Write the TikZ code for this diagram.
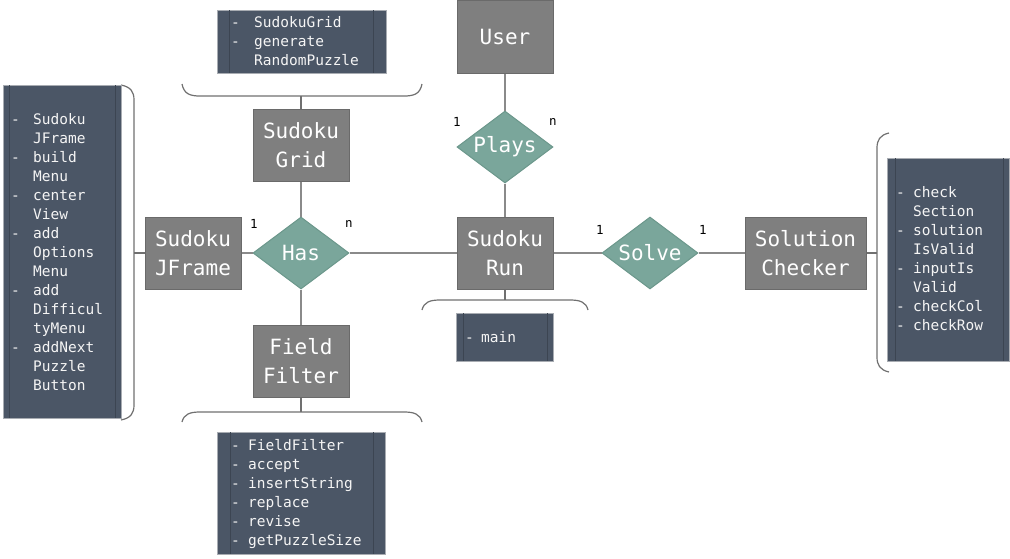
\documentclass[tikz,border=0pt]{standalone}
\usepackage{fontspec}
\newfontfamily\mono{DejaVu Sans Mono}
\usetikzlibrary{shapes.geometric}
\definecolor{entfill}{HTML}{7F7F7F}
\definecolor{entdraw}{HTML}{6A6A6A}
\definecolor{relfill}{HTML}{7AA69B}
\definecolor{reldraw}{HTML}{6B978B}
\definecolor{lstfill}{HTML}{4B5666}
\definecolor{lstin}{HTML}{3C4552}
\definecolor{lstdraw}{HTML}{A8ACB2}
\definecolor{conn}{HTML}{8A8A8A}
\definecolor{brc}{HTML}{707070}
\newcommand\lsti[2]{\strut\makebox[#1][l]{-}#2}
\newcommand\lstc[2]{\strut\makebox[#1][l]{}#2}
\tikzset{
  ent/.style={draw=entdraw, fill=entfill, line width=1pt, text=white, font=\mono\fontsize{21}{29}\selectfont, align=center, inner sep=0pt},
  rel/.style={diamond, draw=reldraw, fill=relfill, line width=1pt, text=white, font=\mono\fontsize{21}{29}\selectfont, inner sep=0pt, aspect=1.33},
  lst/.style={draw=lstdraw, fill=lstfill, line width=0.8pt},
  lstinner/.style={draw=lstin, line width=1pt},
  lsttext/.style={text=white!92!gray, font=\mono\fontsize{14.5}{19}\selectfont, align=left, inner sep=0pt, anchor=north west},
  card/.style={font=\mono\fontsize{12.5}{14}\selectfont, text=black, inner sep=0pt},
  conline/.style={draw=conn, line width=1.3pt},
  brace/.style={draw=brc, line width=1.2pt}
}
\begin{document}
\begin{tikzpicture}[x=1pt,y=-1pt]
\useasboundingbox (0,0) rectangle (1010,558);
% entities
\node[ent, minimum width=96pt, minimum height=73pt] (user) at (505,36.5) {User};
\node[ent, minimum width=96pt, minimum height=72pt] (grid) at (301,145) {Sudoku\\Grid};
\node[ent, minimum width=96pt, minimum height=72pt] (jframe) at (193,253) {Sudoku\\JFrame};
\node[ent, minimum width=96pt, minimum height=72pt] (run) at (505,253) {Sudoku\\Run};
\node[ent, minimum width=96pt, minimum height=72pt] (filter) at (301,361) {Field\\Filter};
\node[ent, minimum width=121pt, minimum height=72pt] (checker) at (805.5,253) {Solution\\Checker};
% relations
\node[rel, minimum width=96pt, minimum height=72pt] (has) at (301,253) {Has};
\node[rel, minimum width=96pt, minimum height=72pt] (plays) at (505,147) {Plays};
\node[rel, minimum width=96pt, minimum height=72pt] (solve) at (650,253) {Solve};
% connectors
\draw[conline] (user) -- (plays);
\draw[conline] (plays) -- (run);
\draw[conline] (jframe) -- (has);
\draw[conline] (has) -- (run);
\draw[conline] (grid) -- (has);
\draw[conline] (has) -- (filter);
\draw[conline] (run) -- (solve);
\draw[conline] (solve) -- (checker);
% cardinalities
\node[card] (c1) at (254,224) {1};
\node[card] (c2) at (349,224) {n};
\node[card] (c3) at (457,122) {1};
\node[card] (c4) at (553,122) {n};
\node[card] (c5) at (600,230) {1};
\node[card] (c6) at (703,230) {1};
% braces
\draw[brace] (182,84) .. controls (184,94) and (190,96) .. (200,96) -- (404,96) .. controls (414,96) and (420,94) .. (422,84);
\coordinate (bgrid) at (301,96);
\draw[brace] (182,422) .. controls (184,414) and (190,412) .. (200,412) -- (404,412) .. controls (414,412) and (420,414) .. (422,422);
\coordinate (bfilter) at (301,412);
\draw[brace] (422,310) .. controls (424,302) and (430,300) .. (440,300) -- (570,300) .. controls (580,300) and (586,302) .. (588,310);
\coordinate (brun) at (505,300);
\draw[brace] (121,85) .. controls (131,87) and (134,92) .. (134,100) -- (134,405) .. controls (134,413) and (131,418) .. (121,420);
\coordinate (bjframe) at (134,253);
\draw[brace] (889,133) .. controls (880,135) and (877,140) .. (877,148) -- (877,357) .. controls (877,365) and (880,370) .. (889,372);
\coordinate (bchecker) at (877,253);
\draw[brace] (grid.north) -- (bgrid);
\draw[brace] (filter.south) -- (bfilter);
\draw[brace] (run.south) -- (brun);
\draw[brace] (jframe.west) -- (bjframe);
\draw[brace] (checker.east) -- (bchecker);
% lists
\draw[lst] (217,10) rectangle (386,73);
\draw[lstinner] (229,10) -- (229,73) (373,10) -- (373,73);
\node[lsttext] (lgrid) at (231,27-13.3) {\lsti{23pt}{SudokuGrid}\\\lsti{23pt}{generate}\\\lstc{23pt}{RandomPuzzle}};
\draw[lst] (3,85) rectangle (121,418);
\draw[lstinner] (9,85) -- (9,418) (115,85) -- (115,418);
\node[lsttext] (ljframe) at (11,124-13.3) {\lsti{22pt}{Sudoku}\\\lstc{22pt}{JFrame}\\\lsti{22pt}{build}\\\lstc{22pt}{Menu}\\\lsti{22pt}{center}\\\lstc{22pt}{View}\\\lsti{22pt}{add}\\\lstc{22pt}{Options}\\\lstc{22pt}{Menu}\\\lsti{22pt}{add}\\\lstc{22pt}{Difficul}\\\lstc{22pt}{tyMenu}\\\lsti{22pt}{addNext}\\\lstc{22pt}{Puzzle}\\\lstc{22pt}{Button}};
\draw[lst] (456,313) rectangle (553,361);
\draw[lstinner] (463,313) -- (463,361) (547,313) -- (547,361);
\node[lsttext] (lrun) at (465,342-13.3) {\lsti{16pt}{main}};
\draw[lst] (887,158) rectangle (1009,361);
\draw[lstinner] (895,158) -- (895,361) (1003,158) -- (1003,361);
\node[lsttext] (lchecker) at (896,197-13.3) {\lsti{17pt}{check}\\\lstc{17pt}{Section}\\\lsti{17pt}{solution}\\\lstc{17pt}{IsValid}\\\lsti{17pt}{inputIs}\\\lstc{17pt}{Valid}\\\lsti{17pt}{checkCol}\\\lsti{17pt}{checkRow}};
\draw[lst] (217,432) rectangle (385,554);
\draw[lstinner] (230,432) -- (230,554) (373,432) -- (373,554);
\node[lsttext] (lfilter) at (231,450-13.3) {\lsti{17pt}{FieldFilter}\\\lsti{17pt}{accept}\\\lsti{17pt}{insertString}\\\lsti{17pt}{replace}\\\lsti{17pt}{revise}\\\lsti{17pt}{getPuzzleSize}};
\end{tikzpicture}
\end{document}
